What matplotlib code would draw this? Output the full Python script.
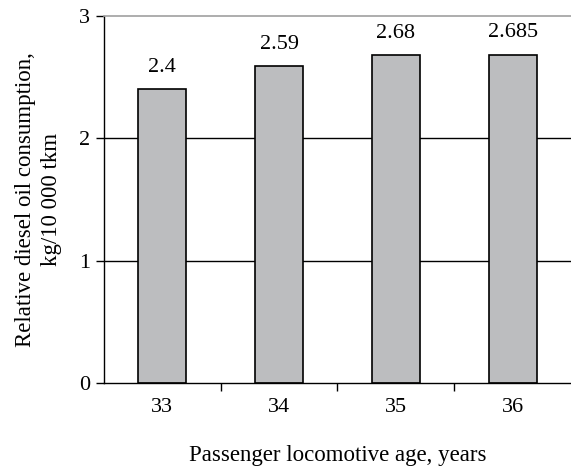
import matplotlib
matplotlib.use('Agg')
import matplotlib.pyplot as plt
import numpy as np

# data
ages = [33, 34, 35, 36]
consumption = [2.4, 2.59, 2.68, 2.685]
value_labels = ['2.4', '2.59', '2.68', '2.685']

plt.rcParams['font.family'] = ['Liberation Serif', 'DejaVu Serif']

fig = plt.figure(figsize=(5.71, 4.72), dpi=100)
ax = fig.add_axes([0.182, 0.1886, 0.818, 0.7775])

# horizontal reference lines behind the bars
for yy in [1, 2]:
    ax.axhline(yy, color='black', linewidth=1.0, zorder=1)

bars = ax.bar(ages, consumption, width=0.41, color='#bcbdbf',
              edgecolor='black', linewidth=1.2, zorder=2)

for b, lab in zip(bars, value_labels):
    ax.annotate(lab, (b.get_x() + b.get_width() / 2, b.get_height()),
                xytext=(0, 9), textcoords='offset points',
                ha='center', va='bottom', fontsize=16)

ax.set_xlim(ages[0] - 0.5, ages[-1] + 0.5)
ax.set_ylim(0, 3)
ax.set_yticks([0, 1, 2, 3])
ax.set_xticks(ages)
ax.set_xticks(np.array(ages[:-1]) + 0.5, minor=True)

ax.tick_params(axis='x', which='major', length=0, pad=11, labelsize=16)
ax.tick_params(axis='x', which='minor', length=6, width=1, direction='out')
ax.tick_params(axis='y', length=6, width=1, direction='out', pad=4, labelsize=16)

ax.spines['right'].set_visible(False)
ax.spines['top'].set_color('#a0a0a0')
ax.spines['top'].set_linewidth(1.2)
ax.spines['left'].set_linewidth(1.0)
ax.spines['bottom'].set_linewidth(1.0)

ax.set_xlabel('Passenger locomotive age, years', fontsize=16.5, labelpad=20)
ax.set_ylabel('Relative diesel oil consumption,\nkg/10 000 tkm', fontsize=16.5,
              labelpad=12, linespacing=1.3)

plt.savefig('out.png', dpi=100)
plt.close('all')
